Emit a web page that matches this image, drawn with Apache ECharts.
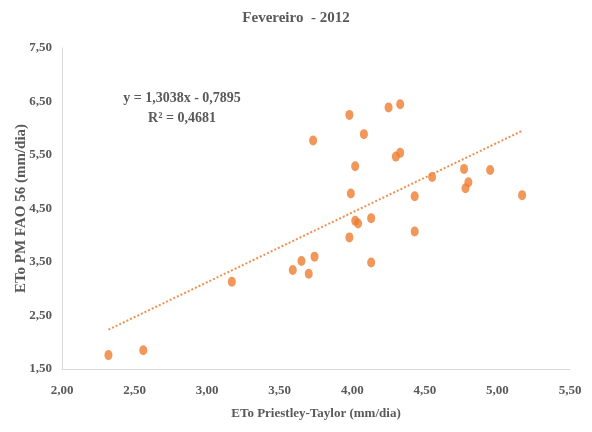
<!DOCTYPE html>
<html>
<head>
<meta charset="utf-8">
<script src="https://cdn.jsdelivr.net/npm/echarts@6/dist/echarts.min.js"></script>
<style>html,body{margin:0;padding:0;background:#fff}#c{width:592px;height:432px}</style>
</head>
<body>
<div id="c"></div>
<script>
// ETo Priestley-Taylor (x) vs ETo PM FAO 56 (y), February 2012
var etoPT = [2.32, 2.56, 3.17, 3.59, 3.65, 3.70, 3.74, 3.73, 3.98, 3.99, 3.98, 4.02, 4.02, 4.04, 4.08, 4.13, 4.13, 4.25, 4.33, 4.30, 4.33, 4.43, 4.43, 4.55, 4.77, 4.78, 4.80, 4.95, 5.17];
var etoPM = [1.76, 1.85, 3.13, 3.35, 3.52, 3.28, 3.60, 5.77, 6.25, 4.78, 3.96, 5.29, 4.27, 4.22, 5.89, 4.32, 3.49, 6.39, 6.45, 5.47, 5.54, 4.73, 4.07, 5.09, 5.24, 4.88, 4.99, 5.22, 4.75];
var slope = 1.3038;
var intercept = -0.7895;
var equationText = 'y = 1,3038x - 0,7895';
var r2Text = 'R² = 0,4681';
var titleText = 'Fevereiro  - 2012';
var xName = 'ETo Priestley-Taylor (mm/dia)';
var yName = 'ETo PM FAO 56 (mm/dia)';

var points = etoPT.map(function (x, i) { return [x, etoPM[i]]; });
var xMin = Math.min.apply(null, etoPT), xMax = Math.max.apply(null, etoPT);
var trend = [[xMin, slope * xMin + intercept], [xMax, slope * xMax + intercept]];

var fmt = function (v) { return v.toFixed(2).replace('.', ','); };
var FONT = '"Liberation Serif", "Times New Roman", serif';
var GRAY = '#595959';
var ORANGE = '#ED7D31';

var chart = echarts.init(document.getElementById('c'), null, { renderer: 'canvas' });
chart.setOption({
  animation: false,
  backgroundColor: '#ffffff',
  title: {
    text: titleText, left: 'center', top: 6,
    textStyle: { fontFamily: FONT, fontWeight: 'bold', fontSize: 15, color: GRAY }
  },
  grid: { left: 62, right: 22, top: 48, bottom: 63 },
  xAxis: {
    type: 'value', min: 2, max: 5.5, interval: 0.5,
    name: xName, nameLocation: 'middle', nameGap: 38, nameMoveOverlap: false,
    nameTextStyle: { fontFamily: FONT, fontWeight: 'bold', fontSize: 13, color: GRAY },
    axisLine: { show: true, lineStyle: { color: '#D9D9D9', width: 1 } },
    axisTick: { show: false },
    splitLine: { show: false },
    axisLabel: { margin: 15, formatter: fmt, fontFamily: FONT, fontWeight: 'bold', fontSize: 13, color: GRAY }
  },
  yAxis: {
    type: 'value', min: 1.5, max: 7.5, interval: 0.5,
    name: yName, nameLocation: 'middle', nameGap: 33, nameRotate: 90, nameMoveOverlap: false,
    nameTextStyle: { fontFamily: FONT, fontWeight: 'bold', fontSize: 15, color: GRAY },
    axisLine: { show: true, lineStyle: { color: '#D9D9D9', width: 1 } },
    axisTick: { show: false },
    splitLine: { show: false },
    axisLabel: {
      margin: 10,
      formatter: function (v) { return Math.abs(((v - 1.5) % 1)) < 1e-6 ? fmt(v) : ''; },
      fontFamily: FONT, fontWeight: 'bold', fontSize: 13, color: GRAY
    }
  },
  graphic: [{
    type: 'text', x: 182, y: 98,
    style: { text: equationText, align: 'center', verticalAlign: 'middle',
      font: 'bold 14px ' + FONT, fill: GRAY }
  }, {
    type: 'text', x: 182, y: 118,
    style: { text: r2Text, align: 'center', verticalAlign: 'middle',
      font: 'bold 14px ' + FONT, fill: GRAY }
  }],
  series: [{
    type: 'scatter', data: points, symbol: 'circle', symbolSize: [8, 10],
    itemStyle: { color: ORANGE }, z: 3
  }, {
    type: 'line', data: trend, symbol: 'none', silent: true,
    lineStyle: { color: ORANGE, width: 2, type: [2, 2], opacity: 0.85 }, z: 2
  }]
});
</script>
</body>
</html>
